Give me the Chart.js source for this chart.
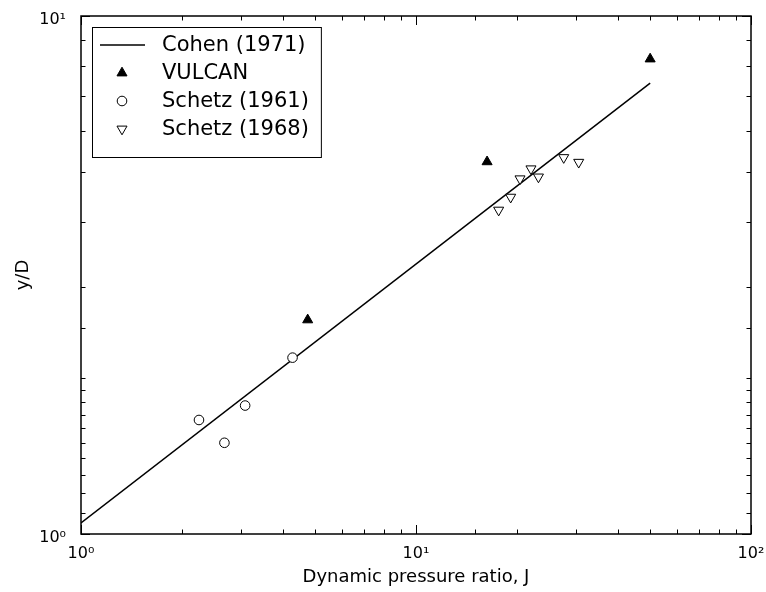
<!DOCTYPE html>
<html>
<head>
<meta charset="utf-8">
<title>Jet penetration height</title>
<script src="https://cdn.jsdelivr.net/npm/chart.js@4.4.1/dist/chart.umd.min.js"></script>
<style>
    html, body { margin: 0; padding: 0; background: #fff; }
    #wrap { width: 766px; height: 592px; position: relative; }
</style>
</head>
<body>
<div id="wrap"><canvas id="penetrationChart"></canvas></div>
<script>
// Penetration height y/D against dynamic pressure ratio J
const cohenJ = [1, 50];
const cohenY = [1.05, 7.42];

const vulcanJ = [4.75, 16.3, 50];
const vulcanY = [2.59, 5.23, 8.26];

const schetz1961J = [2.25, 2.68, 3.09, 4.28];
const schetz1961Y = [1.66, 1.50, 1.77, 2.19];

const schetz1968J = [17.65, 19.17, 20.44, 22.04, 23.2, 27.6, 30.6];
const schetz1968Y = [4.22, 4.47, 4.85, 5.07, 4.89, 5.33, 5.22];

const xDecades = [1, 10, 100];
const xDecadeLabels = ['10⁰', '10¹', '10²'];
const yDecades = [1, 10];
const yDecadeLabels = ['10⁰', '10¹'];

const FONT = '"DejaVu Sans", sans-serif';

function toPoints(xs, ys) {
    return xs.map((x, i) => ({ x: x, y: ys[i] }));
}

function isDecade(v) {
    const l = Math.log10(v);
    return Math.abs(l - Math.round(l)) < 1e-9;
}

function decadeLabel(value, decades, labels) {
    const i = decades.findIndex(d => Math.abs(d - value) < 1e-9 * d);
    return i >= 0 ? labels[i] : '';
}

// Black frame with inward major/minor ticks on all four sides
const frameTicks = {
    id: 'frameTicks',
    afterDraw(chart) {
        const { ctx, chartArea: area, scales } = chart;
        ctx.save();
        ctx.strokeStyle = '#000';
        ctx.lineWidth = 1;
        const seg = (x1, y1, x2, y2) => {
            ctx.beginPath();
            ctx.moveTo(x1, y1);
            ctx.lineTo(x2, y2);
            ctx.stroke();
        };
        scales.x.ticks.forEach(t => {
            const px = Math.round(scales.x.getPixelForValue(t.value)) + 0.5;
            const len = isDecade(t.value) ? 9 : 4.5;
            seg(px, area.bottom, px, area.bottom - len);
            seg(px, area.top, px, area.top + len);
        });
        scales.y.ticks.forEach(t => {
            const py = Math.round(scales.y.getPixelForValue(t.value)) + 0.5;
            const len = isDecade(t.value) ? 9 : 4.5;
            seg(area.left, py, area.left + len, py);
            seg(area.right, py, area.right - len, py);
        });
        ctx.lineWidth = 1.5;
        ctx.strokeRect(area.left, area.top, area.right - area.left, area.bottom - area.top);
        ctx.restore();
    }
};

// Legend in a box at the upper left of the plot
const boxedLegend = {
    id: 'boxedLegend',
    afterDraw(chart) {
        const { ctx, chartArea: area } = chart;
        const sets = chart.data.datasets;
        ctx.save();
        ctx.font = '21px ' + FONT;
        const textW = Math.max(...sets.map(d => ctx.measureText(d.label).width));
        const x0 = area.left + 11;
        const y0 = area.top + 11;
        const rowH = 28;
        const w = 70 + textW + 12;
        const h = 130;
        ctx.fillStyle = '#fff';
        ctx.fillRect(x0, y0, w, h);
        ctx.strokeStyle = '#000';
        ctx.lineWidth = 1;
        ctx.strokeRect(x0 + 0.5, y0 + 0.5, w, h);
        ctx.textBaseline = 'middle';
        sets.forEach((d, i) => {
            const cy = y0 + 18 + i * rowH;
            ctx.strokeStyle = d.borderColor;
            ctx.fillStyle = d.backgroundColor;
            ctx.lineWidth = d.borderWidth;
            if (d.showLine) {
                ctx.beginPath();
                ctx.moveTo(x0 + 8, cy);
                ctx.lineTo(x0 + 53, cy);
                ctx.stroke();
            } else {
                Chart.helpers.drawPoint(ctx, {
                    pointStyle: d.pointStyle,
                    radius: d.pointRadius,
                    rotation: d.pointRotation || 0,
                    borderWidth: d.borderWidth
                }, x0 + 30, cy);
            }
            ctx.fillStyle = '#000';
            ctx.fillText(d.label, x0 + 70, cy + 1);
        });
        ctx.restore();
    }
};

document.addEventListener('DOMContentLoaded', function() {
    Chart.defaults.font.family = FONT;
    Chart.defaults.color = '#000';

    const el = document.getElementById('penetrationChart');
    new Chart(el, {
        type: 'scatter',
        data: {
            datasets: [{
                label: 'Cohen (1971)',
                data: toPoints(cohenJ, cohenY),
                showLine: true,
                borderColor: '#000',
                backgroundColor: '#000',
                borderWidth: 1.5,
                pointRadius: 0,
                order: 1
            }, {
                label: 'VULCAN',
                data: toPoints(vulcanJ, vulcanY),
                pointStyle: 'triangle',
                pointRadius: 5.8,
                borderColor: '#000',
                backgroundColor: '#000',
                borderWidth: 1,
                order: 0
            }, {
                label: 'Schetz (1961)',
                data: toPoints(schetz1961J, schetz1961Y),
                pointStyle: 'circle',
                pointRadius: 4.8,
                borderColor: '#000',
                backgroundColor: '#fff',
                borderWidth: 1,
                order: 0
            }, {
                label: 'Schetz (1968)',
                data: toPoints(schetz1968J, schetz1968Y),
                pointStyle: 'triangle',
                pointRotation: 180,
                pointRadius: 5.8,
                borderColor: '#000',
                backgroundColor: '#fff',
                borderWidth: 1,
                order: 0
            }]
        },
        options: {
            responsive: true,
            maintainAspectRatio: false,
            animation: false,
            layout: {
                padding: { top: 16, right: 15, left: 0, bottom: 0 }
            },
            plugins: {
                legend: { display: false },
                tooltip: { enabled: false }
            },
            scales: {
                x: {
                    type: 'logarithmic',
                    min: 1,
                    max: 100,
                    grid: { display: false },
                    border: { display: false },
                    title: {
                        display: true,
                        text: 'Dynamic pressure ratio, J',
                        font: { size: 18 },
                        padding: { top: 0, bottom: 4 }
                    },
                    ticks: {
                        autoSkip: false,
                        maxRotation: 0,
                        padding: 2,
                        font: { size: 16 },
                        callback: value => decadeLabel(value, xDecades, xDecadeLabels)
                    },
                    afterFit: scale => {
                        scale.height = 58;
                        scale.paddingLeft = 0;
                        scale.paddingRight = 0;
                    }
                },
                y: {
                    type: 'logarithmic',
                    min: 1,
                    max: 10,
                    grid: { display: false },
                    border: { display: false },
                    title: {
                        display: true,
                        text: 'y/D',
                        font: { size: 18 },
                        padding: { top: 13, bottom: 0 }
                    },
                    ticks: {
                        autoSkip: false,
                        padding: 7,
                        labelOffset: 4,
                        font: { size: 16 },
                        callback: value => decadeLabel(value, yDecades, yDecadeLabels)
                    },
                    afterFit: scale => {
                        scale.width = 81;
                        scale.paddingTop = 0;
                        scale.paddingBottom = 0;
                    }
                }
            }
        },
        plugins: [frameTicks, boxedLegend]
    });
});
</script>
</body>
</html>
